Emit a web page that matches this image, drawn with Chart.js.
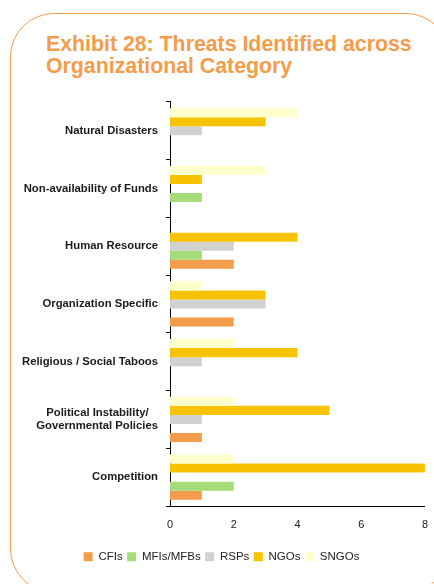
<!DOCTYPE html>
<html>
<head>
<meta charset="utf-8">
<script src="https://cdn.jsdelivr.net/npm/chart.js@4.4.1/dist/chart.umd.min.js"></script>
<style>
  html, body { margin: 0; padding: 0; background: #fff; }
  body { width: 434px; height: 584px; position: relative; overflow: hidden; font-family: "Liberation Sans", Arial, sans-serif; }
  .frame { position: absolute; left: 10px; top: 13px; width: 440px; height: 580px; border: 1.5px solid #F39C4B; border-radius: 44px; box-sizing: border-box; }
  .title { position: absolute; left: 46px; top: 33px; color: #F39C4B; font-weight: bold; font-size: 21.3px; line-height: 22px; white-space: nowrap; }
  .plot { position: absolute; left: 10px; top: 87px; width: 426px; height: 497px; }
</style>
</head>
<body>
<div class="frame"></div>
<div class="title">Exhibit 28: Threats Identified across<br>Organizational Category</div>
<div class="plot"><canvas id="c"></canvas></div>
<script>
// Threat categories, top to bottom
const categories = [
  "Natural Disasters",
  "Non-availability of Funds",
  "Human Resource",
  "Organization Specific",
  "Religious / Social Taboos",
  ["Political Instability/   ", "Governmental Policies"],
  "Competition"
];

// Number of organizations citing each threat, per organizational category
const cfis    = [0, 0, 2, 2, 0, 1, 1];
const mfis    = [0, 1, 1, 0, 0, 0, 2];
const rsps    = [1, 0, 2, 3, 1, 1, 0];
const ngos    = [3, 1, 4, 3, 4, 5, 8];
const sngos   = [4, 3, 0, 1, 2, 2, 2];

const xTicks = [0, 2, 4, 6, 8];

const colors = {
  cfis: "#F39C4B",
  mfis: "#A6DB7A",
  rsps: "#D2D1D1",
  ngos: "#F7C300",
  sngos: "#FFFFCC"
};

const fontFamily = "'Liberation Sans', Arial, sans-serif";

// Datasets listed top-of-group first; legend is reversed to read CFIs → SNGOs
const datasets = [
  { label: "SNGOs",     data: sngos, backgroundColor: colors.sngos },
  { label: "NGOs",      data: ngos,  backgroundColor: colors.ngos },
  { label: "RSPs",      data: rsps,  backgroundColor: colors.rsps },
  { label: "MFIs/MFBs", data: mfis,  backgroundColor: colors.mfis },
  { label: "CFIs",      data: cfis,  backgroundColor: colors.cfis }
].map(d => Object.assign(d, { borderWidth: 0, categoryPercentage: 0.78, barPercentage: 1.0 }));

new Chart(document.getElementById("c"), {
  type: "bar",
  data: { labels: categories, datasets },
  options: {
    indexAxis: "y",
    responsive: true,
    maintainAspectRatio: false,
    animation: false,
    layout: { padding: { top: 5, right: 3, bottom: 11.5, left: 0 } },
    plugins: {
      legend: {
        position: "bottom",
        reverse: true,
        labels: {
          boxWidth: 9,
          boxHeight: 9,
          padding: 4.5,
          color: "#222",
          font: { family: fontFamily, size: 11.5 }
        }
      },
      tooltip: { enabled: false }
    },
    scales: {
      x: {
        min: 0,
        max: 8,
        afterBuildTicks: (scale) => { scale.ticks = xTicks.map(v => ({ value: v })); },
        afterFit: (scale) => { scale.height = 40.5; },
        grid: { display: false, drawOnChartArea: false, drawTicks: true, tickLength: 4, color: "#000" },
        border: { display: true, color: "#000", width: 1 },
        ticks: {
          color: "#222",
          padding: 8,
          font: { family: fontFamily, size: 11 }
        }
      },
      y: {
        afterFit: (scale) => { scale.width = 160; },
        grid: { display: true, drawOnChartArea: false, drawTicks: true, tickLength: 4, offset: true, color: "#000" },
        border: { display: true, color: "#000", width: 1 },
        ticks: {
          color: "#1a1a1a",
          padding: 8,
          font: { family: fontFamily, size: 11.3, weight: "bold" }
        }
      }
    }
  }
});
</script>
</body>
</html>
